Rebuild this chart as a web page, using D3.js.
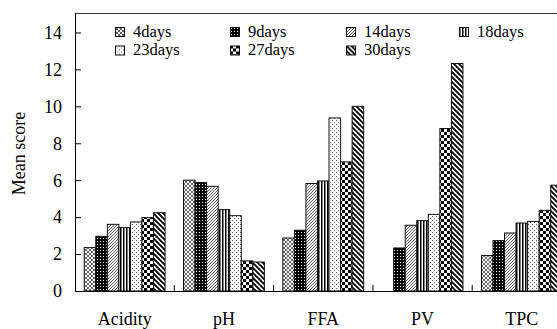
<!DOCTYPE html>
<html>
<head>
<meta charset="utf-8">
<script src="https://cdn.jsdelivr.net/npm/d3@7"></script>
<style>
html,body{margin:0;padding:0;background:#fff;}
svg{display:block;}
text{font-family:'Liberation Serif', serif;font-weight:normal;}
</style>
</head>
<body>
<svg id="chart" width="557" height="329"></svg>
<script>
const categories = ["Acidity", "pH", "FFA", "PV", "TPC"];
const seriesNames = ["4days", "9days", "14days", "18days", "23days", "27days", "30days"];
const d4  = [2.35, 6.00, 2.87, 0.00, 1.92];
const d9  = [2.96, 5.87, 3.29, 2.33, 2.73];
const d14 = [3.61, 5.67, 5.82, 3.56, 3.14];
const d18 = [3.43, 4.41, 5.96, 3.81, 3.68];
const d23 = [3.74, 4.08, 9.37, 4.15, 3.76];
const d27 = [3.97, 1.63, 6.99, 8.80, 4.37];
const d30 = [4.24, 1.57, 10.00, 12.32, 5.73];
const yTicks = [0, 2, 4, 6, 8, 10, 12, 14];
const yLabel = "Mean score";

const seriesValues = [d4, d9, d14, d18, d23, d27, d30];
const FONT = "'Liberation Serif', serif";

const svg = d3.select("#chart");
const defs = svg.append("defs");

function pat(id, w, h, draw) {
  const p = defs.append("pattern").attr("id", id).attr("patternUnits", "userSpaceOnUse")
    .attr("width", w).attr("height", h);
  draw(p);
}
pat("p0", 4, 4, p => {
  p.append("rect").attr("width", 4).attr("height", 4).attr("fill", "#fff");
  p.append("path").attr("d", "M0,0L4,4M4,0L0,4").attr("stroke", "#222").attr("stroke-width", 0.7);
});
pat("p1", 3, 3, p => {
  p.append("rect").attr("width", 3).attr("height", 3).attr("fill", "#000");
  p.append("rect").attr("x", 1).attr("y", 1).attr("width", 1).attr("height", 1).attr("fill", "#fff");
});
pat("p2", 3, 3, p => {
  p.append("rect").attr("width", 3).attr("height", 3).attr("fill", "#fff");
  p.append("path").attr("d", "M-1,1L1,-1M0,3L3,0M2,4L4,2").attr("stroke", "#333").attr("stroke-width", 0.8);
});
pat("p3", 3, 3, p => {
  p.append("rect").attr("width", 3).attr("height", 3).attr("fill", "#fff");
  p.append("rect").attr("x", 0).attr("width", 1.5).attr("height", 3).attr("fill", "#000");
});
pat("p4", 4, 4, p => {
  p.append("rect").attr("width", 4).attr("height", 4).attr("fill", "#fff");
  p.append("rect").attr("x", 0).attr("y", 0).attr("width", 1).attr("height", 1).attr("fill", "#555");
  p.append("rect").attr("x", 2).attr("y", 2).attr("width", 1).attr("height", 1).attr("fill", "#777");
});
pat("p5", 6, 6, p => {
  p.append("rect").attr("width", 6).attr("height", 6).attr("fill", "#fff");
  p.append("rect").attr("width", 3).attr("height", 3).attr("fill", "#000");
  p.append("rect").attr("x", 3).attr("y", 3).attr("width", 3).attr("height", 3).attr("fill", "#000");
});
pat("p6", 5, 5, p => {
  p.append("rect").attr("width", 5).attr("height", 5).attr("fill", "#fff");
  p.append("path").attr("d", "M-1,-1L6,6M-1,4L1,6M4,-1L6,1").attr("stroke", "#000").attr("stroke-width", 1.8);
});
const fills = seriesNames.map((s, i) => `url(#p${i})`);

const x0 = 75, x1 = 571.5, yBottom = 291, yTop = 14;
const x = d3.scaleBand().domain(categories).range([x0, x1]).paddingInner(0).paddingOuter(0);
const xi = d3.scaleBand().domain(seriesNames).range([0, x.bandwidth()]).paddingInner(0).paddingOuter(0.8);
const y = d3.scaleLinear().domain([0, 15]).range([yBottom, yTop]);

seriesNames.forEach((s, si) => {
  svg.append("g").selectAll("rect").data(categories).join("rect")
    .attr("x", (c) => x(c) + xi(s))
    .attr("width", xi.bandwidth())
    .attr("y", (c, ci) => y(seriesValues[si][ci]))
    .attr("height", (c, ci) => y(0) - y(seriesValues[si][ci]))
    .attr("fill", fills[si])
    .attr("stroke", (c, ci) => seriesValues[si][ci] > 0 ? "#111" : "none")
    .attr("stroke-width", 1);
});

svg.append("line").attr("x1", x0).attr("x2", 557).attr("y1", yTop - 0.5).attr("y2", yTop - 0.5)
  .attr("stroke", "#333").attr("stroke-width", 1);

const yAxis = d3.axisRight(y).tickValues(yTicks).tickSize(6).tickFormat("");
const gy = svg.append("g").attr("transform", `translate(${x0},0)`).call(yAxis);
gy.select(".domain").attr("d", `M0.5,${yTop - 0.5}V${yBottom}`).attr("stroke", "#000");
gy.selectAll(".tick line").attr("stroke", "#000");
svg.append("g").selectAll("text").data(yTicks).join("text")
  .attr("x", 62).attr("y", d => y(d)).attr("dy", "0.35em")
  .attr("text-anchor", "end").attr("font-family", FONT).attr("font-size", 18).attr("fill", "#000")
  .text(d => d);

svg.append("line").attr("x1", x0).attr("x2", 557).attr("y1", yBottom + 0.5).attr("y2", yBottom + 0.5)
  .attr("stroke", "#000").attr("stroke-width", 1.2);
svg.append("g").selectAll("line").data(categories.slice(1)).join("line")
  .attr("x1", c => x(c)).attr("x2", c => x(c))
  .attr("y1", yBottom).attr("y2", yBottom - 6)
  .attr("stroke", "#000").attr("stroke-width", 1);
svg.append("g").selectAll("text").data(categories).join("text")
  .attr("x", c => x(c) + x.bandwidth() / 2).attr("y", 325)
  .attr("text-anchor", "middle").attr("font-family", FONT).attr("font-size", 18).attr("fill", "#000")
  .text(c => c);

svg.append("text").attr("transform", "translate(25,153.5) rotate(-90)")
  .attr("text-anchor", "middle").attr("font-family", FONT).attr("font-size", 18).attr("fill", "#000").text(yLabel);

const legX = [115, 230, 346, 459];
const legY = [27, 45.5];
const leg = svg.append("g").selectAll("g").data(seriesNames).join("g")
  .attr("transform", (s, i) => `translate(${legX[i % 4]},${legY[Math.floor(i / 4)]})`);
leg.append("rect").attr("x", 0.5).attr("y", 0.5).attr("width", 9).attr("height", 9)
  .attr("fill", (s, i) => fills[i]).attr("stroke", "#111").attr("stroke-width", 1);
leg.append("text").attr("x", 18).attr("y", 9.5).attr("font-family", FONT).attr("font-size", 16.5).attr("fill", "#000").text(s => s);
</script>
</body>
</html>
